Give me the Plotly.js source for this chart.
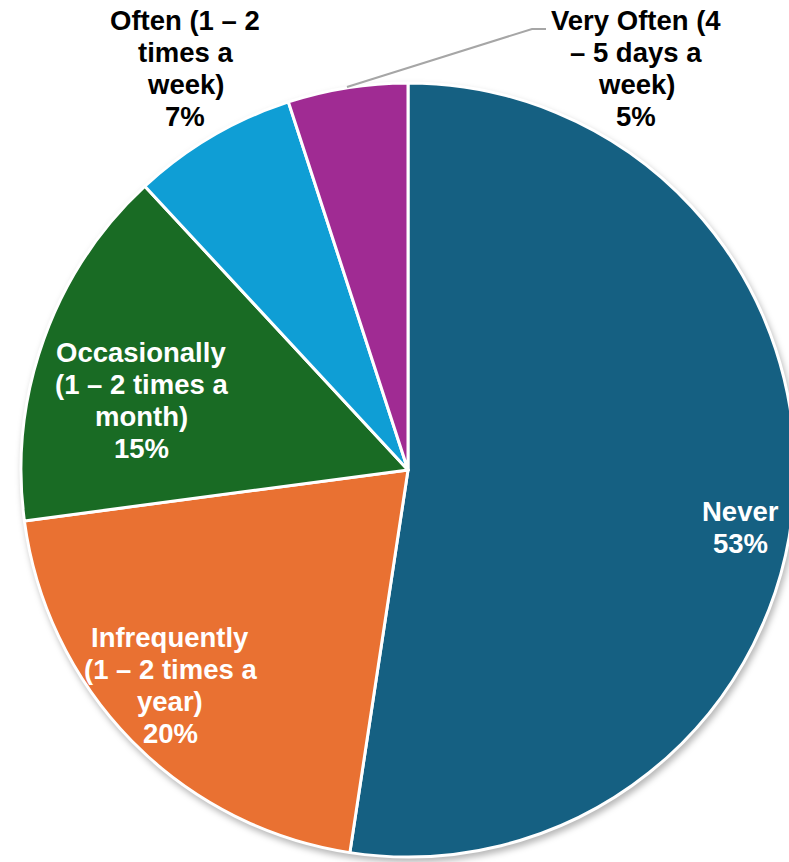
<!DOCTYPE html>
<html>
<head>
<meta charset="utf-8">
<script src="https://cdn.plot.ly/plotly-3.0.1.min.js"></script>
<style>
html, body { margin: 0; padding: 0; background: #ffffff; overflow: hidden; width: 789px; height: 862px; }
#chart { width: 816px; height: 862px; }
.pielayer { filter: drop-shadow(2px 4px 3px rgba(0,0,0,0.28)); }
</style>
</head>
<body>
<div id="chart"></div>
<script>
// ---- data ----
const categories = [
  'Never',
  'Infrequently (1 – 2 times a year)',
  'Occasionally (1 – 2 times a month)',
  'Often (1 – 2 times a week)',
  'Very Often (4 – 5 days a week)'
];
const labelText = [
  'Never',
  'Infrequently<br>(1 – 2 times a<br>year)',
  'Occasionally<br>(1 – 2 times a<br>month)',
  'Often (1 – 2<br>times a<br>week)',
  'Very Often (4<br>– 5 days a<br>week)'
];
// slice sizes as measured from the slice angles in the picture
const values = [52.4, 20.5, 15.2, 6.9, 5.0];
// percentages as printed in the picture
const percentText = ['53%', '20%', '15%', '7%', '5%'];
const colors = ['#156082', '#E97132', '#196B24', '#0F9ED5', '#A02B93'];

// ---- layout helpers (pixel -> paper) ----
const W = 816, H = 862;
const px = x => x / W;
const py = y => (H - y) / H;

// label block centres (pixels) and text colours
const labelCentre = [[740, 527], [170, 685], [141, 400], [185, 68], [636, 68]];
const labelColour = ['#ffffff', '#ffffff', '#ffffff', '#000000', '#000000'];
const lineStep = 32;

const annotations = [];
labelText.forEach((t, i) => {
  const lines = t.split('<br>').concat([percentText[i]]);
  const n = lines.length;
  lines.forEach((ln, j) => {
    annotations.push({
      xref: 'paper', yref: 'paper',
      x: px(labelCentre[i][0]), y: py(labelCentre[i][1]),
      xanchor: 'center', yanchor: 'middle',
      yshift: -(j - (n - 1) / 2) * lineStep,
      text: ln, showarrow: false,
      font: { family: 'Liberation Sans, Arial, sans-serif', size: 27.5, weight: 'bold', color: labelColour[i] }
    });
  });
});

const trace = {
  type: 'pie',
  labels: categories,
  values: values,
  sort: false,
  direction: 'clockwise',
  rotation: 0,
  textinfo: 'none',
  hoverinfo: 'label+percent',
  marker: { colors: colors, line: { color: '#ffffff', width: 3 } },
  domain: { x: [0, 1], y: [py(857), py(83)] },
  showlegend: false
};

const layout = {
  width: W, height: H,
  margin: { l: 0, r: 0, t: 0, b: 0 },
  paper_bgcolor: '#ffffff',
  showlegend: false,
  annotations: annotations,
  shapes: [{
    type: 'path', xref: 'paper', yref: 'paper',
    path: 'M ' + px(347) + ' ' + py(87) + ' L ' + px(532) + ' ' + py(29) + ' L ' + px(546) + ' ' + py(29),
    line: { color: '#A6A6A6', width: 2 }
  }]
};

Plotly.newPlot('chart', [trace], layout, { displayModeBar: false, staticPlot: true });
</script>
</body>
</html>
